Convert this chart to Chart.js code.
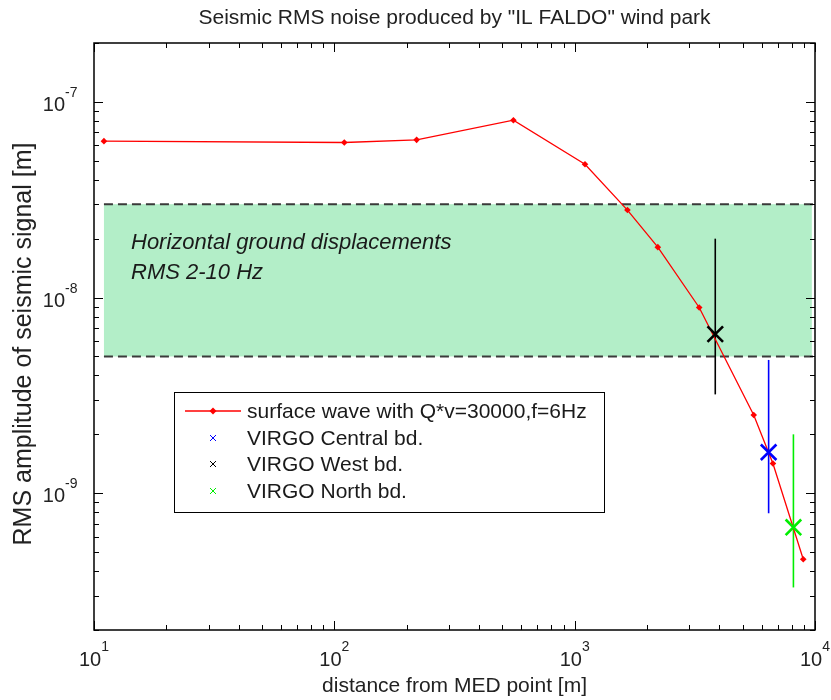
<!DOCTYPE html>
<html>
<head>
<meta charset="utf-8">
<script src="https://cdn.jsdelivr.net/npm/chart.js@4.4.1/dist/chart.umd.min.js"></script>
<style>
  html, body { margin: 0; padding: 0; background: #fff; }
  canvas { display: block; }
</style>
</head>
<body>
<canvas id="seismicChart" width="831" height="700"></canvas>
<script>
// ── Data ───────────────────────────────────────────────────────────────────
const distance = [11, 110, 220, 556, 1104, 1658, 2218, 3297, 5559, 6683, 8935];
const rmsSurface = [6.3e-8, 6.2e-8, 6.4e-8, 8.06e-8, 4.8e-8, 2.8e-8, 1.81e-8, 8.9e-9, 2.51e-9, 1.42e-9, 4.6e-10];

const sites = ['VIRGO Central bd.', 'VIRGO West bd.', 'VIRGO North bd.'];
const siteDistance = [6413, 3846, 8132];
const siteRms = [1.62e-9, 6.5e-9, 6.7e-10];
const siteLow = [7.9e-10, 3.2e-9, 3.3e-10];
const siteHigh = [4.8e-9, 2.0e-8, 2.0e-9];
const siteColors = ['#0000ff', '#000000', '#00ee00'];

const bandX = [11, 9700];
const bandY = [5e-9, 3e-8];

const xTickExp = [1, 2, 3, 4];
const yTickExp = [-9, -8, -7];

const FONT = '"Liberation Sans", Arial, sans-serif';

// ── Helpers ────────────────────────────────────────────────────────────────
function minorValues(min, max) {
  const out = [];
  for (let e = Math.floor(Math.log10(min)); e <= Math.ceil(Math.log10(max)); e++) {
    for (let m = 1; m <= 9; m++) {
      const v = m * Math.pow(10, e);
      if (v >= min * 0.999 && v <= max * 1.001) out.push({ v, major: m === 1 });
    }
  }
  return out;
}

// ── MATLAB-style axes, band, error bars, legend ────────────────────────────
const matlabLook = {
  id: 'matlabLook',
  beforeDatasetsDraw(chart) {
    const { ctx, scales: { x, y } } = chart;
    const x0 = x.getPixelForValue(bandX[0]);
    const x1 = x.getPixelForValue(bandX[1]);
    const yTop = y.getPixelForValue(bandY[1]);
    const yBot = y.getPixelForValue(bandY[0]);
    ctx.save();
    ctx.fillStyle = '#b3eec8';
    ctx.fillRect(x0, yTop, x1 - x0, yBot - yTop);

    ctx.strokeStyle = '#3a3a3a';
    ctx.lineWidth = 2;
    ctx.setLineDash([9, 5]);
    const xEnd = x.getPixelForValue(x.max);
    [yTop, yBot].forEach((py) => {
      ctx.beginPath();
      ctx.moveTo(x0, py);
      ctx.lineTo(xEnd, py);
      ctx.stroke();
    });
    ctx.setLineDash([]);

    ctx.fillStyle = '#1a1a1a';
    ctx.font = 'italic 22px ' + FONT;
    ctx.textBaseline = 'alphabetic';
    ctx.textAlign = 'left';
    ctx.fillText('Horizontal ground displacements', 131, 249);
    ctx.fillText('RMS 2-10 Hz', 131, 279);

    // error bars
    ctx.lineWidth = 1.6;
    sites.forEach((_, i) => {
      const px = x.getPixelForValue(siteDistance[i]);
      ctx.strokeStyle = siteColors[i];
      ctx.beginPath();
      ctx.moveTo(px, y.getPixelForValue(siteHigh[i]));
      ctx.lineTo(px, y.getPixelForValue(siteLow[i]));
      ctx.stroke();
    });
    ctx.restore();
  },
  afterDatasetsDraw(chart) {
    const { ctx } = chart;
    const ds = chart.data.datasets;
    ctx.save();
    // legend box
    const lx = 174, ly = 392, lw = 430, lh = 120;
    ctx.fillStyle = '#fff';
    ctx.fillRect(lx, ly, lw, lh);
    ctx.strokeStyle = '#000';
    ctx.lineWidth = 1;
    ctx.strokeRect(lx + 0.5, ly + 0.5, lw, lh);

    const rows = [411, 438, 464, 491];
    ctx.font = '21px ' + FONT;
    ctx.textBaseline = 'middle';
    ctx.textAlign = 'left';
    ds.forEach((d, i) => {
      const ry = rows[i];
      if (i === 0) {
        ctx.strokeStyle = d.borderColor;
        ctx.lineWidth = 1.3;
        ctx.beginPath();
        ctx.moveTo(185, ry);
        ctx.lineTo(241, ry);
        ctx.stroke();
        ctx.fillStyle = d.borderColor;
        ctx.beginPath();
        ctx.moveTo(213, ry - 3.5);
        ctx.lineTo(216.5, ry);
        ctx.lineTo(213, ry + 3.5);
        ctx.lineTo(209.5, ry);
        ctx.closePath();
        ctx.fill();
      } else {
        ctx.strokeStyle = d.pointBorderColor;
        ctx.lineWidth = 1;
        ctx.beginPath();
        ctx.moveTo(210, ry - 3); ctx.lineTo(216, ry + 3);
        ctx.moveTo(216, ry - 3); ctx.lineTo(210, ry + 3);
        ctx.stroke();
      }
      ctx.fillStyle = '#1a1a1a';
      ctx.fillText(d.label, 247, ry + 1);
    });
    ctx.restore();
  },
  afterDraw(chart) {
    const { ctx, chartArea: a, scales: { x, y } } = chart;
    ctx.save();
    ctx.strokeStyle = '#000';

    // ticks on all four sides, pointing inwards
    ctx.lineWidth = 1;
    ctx.beginPath();
    minorValues(x.min, x.max).forEach(({ v, major }) => {
      const px = Math.round(x.getPixelForValue(v)) + 0.5;
      const len = major ? 9 : 5;
      ctx.moveTo(px, a.bottom); ctx.lineTo(px, a.bottom - len);
      ctx.moveTo(px, a.top); ctx.lineTo(px, a.top + len);
    });
    minorValues(y.min, y.max).forEach(({ v, major }) => {
      const py = Math.round(y.getPixelForValue(v)) + 0.5;
      const len = major ? 9 : 5;
      ctx.moveTo(a.left, py); ctx.lineTo(a.left + len, py);
      ctx.moveTo(a.right, py); ctx.lineTo(a.right - len, py);
    });
    ctx.stroke();

    ctx.lineWidth = 1.5;
    ctx.strokeRect(a.left, a.top, a.right - a.left, a.bottom - a.top);

    // tick labels as 10^n
    ctx.fillStyle = '#222';
    ctx.textBaseline = 'alphabetic';
    xTickExp.forEach((e) => {
      const px = x.getPixelForValue(Math.pow(10, e));
      ctx.font = '20px ' + FONT;
      const wb = ctx.measureText('10').width;
      ctx.font = '14px ' + FONT;
      const we = ctx.measureText(String(e)).width;
      const left = px - (wb + we) / 2;
      ctx.textAlign = 'left';
      ctx.font = '20px ' + FONT;
      ctx.fillText('10', left, 666);
      ctx.font = '14px ' + FONT;
      ctx.fillText(String(e), left + wb, 651);
    });
    yTickExp.forEach((e) => {
      const py = y.getPixelForValue(Math.pow(10, e));
      ctx.textAlign = 'right';
      ctx.font = '20px ' + FONT;
      ctx.fillText('10', 65, py + 9);
      ctx.textAlign = 'left';
      ctx.font = '14px ' + FONT;
      ctx.fillText(String(e), 65, py - 5);
    });

    // title and axis labels
    const cx = (a.left + a.right) / 2;
    ctx.textAlign = 'center';
    ctx.font = '21px ' + FONT;
    ctx.fillText('Seismic RMS noise produced by "IL FALDO" wind park', cx, 24);
    ctx.fillText('distance from MED point [m]', cx, 692);

    ctx.font = '25px ' + FONT;
    ctx.translate(24, 344);
    ctx.rotate(-Math.PI / 2);
    ctx.textBaseline = 'middle';
    ctx.fillText('RMS amplitude of seismic signal [m]', 0, 0);
    ctx.restore();
  },
};

// ── Chart ──────────────────────────────────────────────────────────────────
const ctx = document.getElementById('seismicChart').getContext('2d');
const chart = new Chart(ctx, {
  type: 'scatter',
  data: {
    datasets: [
      {
        label: 'surface wave with Q*v=30000,f=6Hz',
        data: distance.map((d, i) => ({ x: d, y: rmsSurface[i] })),
        showLine: true,
        borderColor: '#ff0000',
        backgroundColor: '#ff0000',
        borderWidth: 1.3,
        pointStyle: 'rectRot',
        pointRadius: 3.3,
        pointBorderWidth: 0,
        pointBackgroundColor: '#ff0000',
        order: 2,
      },
      ...sites.map((s, i) => ({
        label: s,
        data: [{ x: siteDistance[i], y: siteRms[i] }],
        pointStyle: 'crossRot',
        pointRadius: 11,
        pointBorderWidth: 2.6,
        pointBorderColor: siteColors[i],
        borderColor: siteColors[i],
        order: 1,
      })),
    ],
  },
  options: {
    responsive: false,
    animation: false,
    layout: { padding: { left: 94, top: 43, right: 16, bottom: 70 } },
    scales: {
      x: { type: 'logarithmic', min: 10, max: 10000, display: false },
      y: { type: 'logarithmic', min: 2e-10, max: 2e-7, display: false },
    },
    plugins: { legend: { display: false }, tooltip: { enabled: false } },
  },
  plugins: [matlabLook],
});
</script>
</body>
</html>
